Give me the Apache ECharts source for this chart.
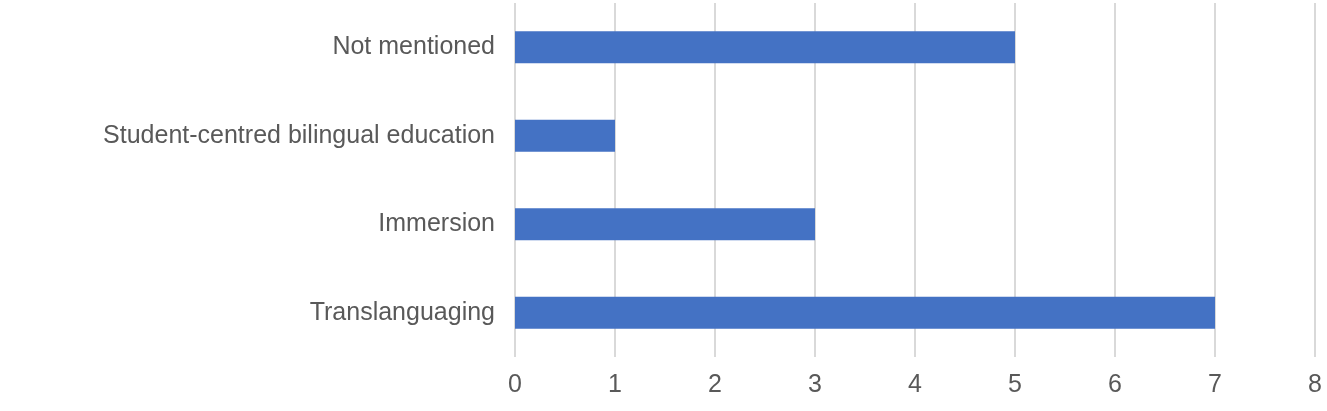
<!DOCTYPE html>
<html>
<head>
<meta charset="utf-8">
<script src="https://cdn.jsdelivr.net/npm/echarts@6/dist/echarts.min.js"></script>
<style>html,body{margin:0;padding:0;background:#fff}#chart{width:1327px;height:411px}</style>
</head>
<body>
<div id="chart"></div>
<script>
const categories = ["Translanguaging", "Immersion", "Student-centred bilingual education", "Not mentioned"];
const counts = [7, 3, 1, 5];
const xTicks = [0, 1, 2, 3, 4, 5, 6, 7, 8];

echarts.init(document.getElementById("chart")).setOption({
  animation: false,
  grid: { left: 515, right: 12, top: 3, bottom: 54 },
  xAxis: {
    type: "value",
    min: xTicks[0],
    max: xTicks[xTicks.length - 1],
    interval: 1,
    axisLine: { show: false },
    axisTick: { show: false },
    axisLabel: { color: "#595959", fontSize: 25, fontFamily: "Helvetica, Liberation Sans, Arial", margin: 16 },
    splitLine: { lineStyle: { color: "#d9d9d9", width: 2 } }
  },
  yAxis: {
    type: "category",
    data: categories,
    axisLine: { show: false },
    axisTick: { show: false },
    axisLabel: { color: "#595959", fontSize: 25, fontFamily: "Helvetica, Liberation Sans, Arial", margin: 20 }
  },
  series: [{
    type: "bar",
    data: counts,
    barWidth: "36%",
    itemStyle: { color: "#4472C4" }
  }]
});
</script>
</body>
</html>
